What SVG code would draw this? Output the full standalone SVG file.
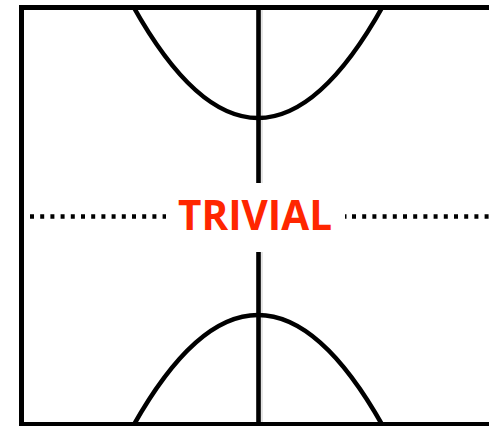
<svg xmlns="http://www.w3.org/2000/svg" width="489" height="426" viewBox="0 0 489 426">
<style>
.ln{fill:none;stroke:#000;stroke-width:4.6}
.fr{fill:none;stroke:#000;stroke-width:5}
.dot{fill:none;stroke:#000;stroke-width:4.6;stroke-dasharray:4 6.2}
.sh{fill:none;stroke:#000;stroke-opacity:0.1;stroke-width:3}
.lbl{font-family:"Open Sans","Liberation Sans",sans-serif;font-weight:bold;font-size:42px;fill:#ff2600}
</style>
<rect width="489" height="426" fill="#fff"/>
<g id="frame">
<path class="fr" d="M21.5,426 V7.5 H489"/>
<path class="fr" d="M21.5,424.5 H489"/>
</g>
<g id="axis">
<path class="sh" d="M261.5,8 V183 M261.5,252 V426"/>
<path class="ln" d="M258.5,8 V183 M258.5,252 V426"/>
</g>
<g id="curves">
<path class="ln" d="M133,6 Q258,230 383,6"/>
<path class="ln" d="M132,428 Q258,202 384,428"/>
</g>
<g id="divider">
<path class="dot" d="M30,216.5 H166"/>
<path class="dot" d="M352,216.5 H489"/>
<path class="ln" d="M345,216.5 H346.5"/>
</g>
<g id="label">
<text class="lbl" x="255" y="230" text-anchor="middle" textLength="154" lengthAdjust="spacingAndGlyphs">TRIVIAL</text>
</g>
</svg>
